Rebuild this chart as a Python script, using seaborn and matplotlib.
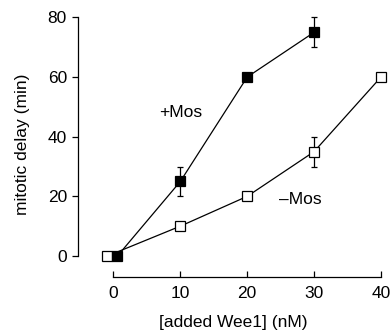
import numpy as np
import pandas as pd
import matplotlib
matplotlib.use("Agg")
import matplotlib.pyplot as plt
import seaborn as sns

# data
minus_x = [-0.9, 10, 20, 30, 40]
minus_y = [0, 10, 20, 35, 60]
minus_err = [1, 1, 0, 5, 0]
plus_x = [0.6, 10, 20, 30]
plus_y = [0, 25, 60, 75]
plus_err = [1, 5, 0, 5]

sns.set_style("ticks", {"axes.edgecolor": "black", "text.color": "black",
                        "xtick.color": "black", "ytick.color": "black",
                        "axes.labelcolor": "black"})
plt.rcParams["font.family"] = ["Liberation Sans", "DejaVu Sans"]
FS = 12.5

fig = plt.figure(figsize=(3.92, 3.36), dpi=100)
ax = fig.add_axes([0.199, 0.176, 0.79, 0.79])

df_minus = pd.DataFrame({"x": minus_x, "y": minus_y})
df_plus = pd.DataFrame({"x": plus_x, "y": plus_y})

ax.errorbar(minus_x, minus_y, yerr=minus_err, fmt="none", ecolor="black",
            elinewidth=0.9, capsize=2.5, capthick=0.9, zorder=2)
ax.errorbar(plus_x, plus_y, yerr=plus_err, fmt="none", ecolor="black",
            elinewidth=0.9, capsize=2.5, capthick=0.9, zorder=2)
sns.lineplot(data=df_minus, x="x", y="y", ax=ax, color="black", lw=0.9,
             marker="s", markersize=7, markerfacecolor="white",
             markeredgecolor="black", markeredgewidth=0.9, zorder=3)
sns.lineplot(data=df_plus, x="x", y="y", ax=ax, color="black", lw=0.9,
             marker="s", markersize=7, markerfacecolor="black",
             markeredgecolor="black", markeredgewidth=0.9, zorder=4)

ax.text(10, 48, "+Mos", fontsize=FS, ha="center", va="center")
ax.text(28, 19, "\u2013Mos", fontsize=FS, ha="center", va="center")

ax.set_xlim(-5.3, 41)
ax.set_ylim(-7, 82)
ax.set_xticks([0, 10, 20, 30, 40])
ax.set_yticks([0, 20, 40, 60, 80])
ax.spines["left"].set_bounds(0, 80)
ax.spines["bottom"].set_bounds(0, 40)
for s in ["top", "right"]:
    ax.spines[s].set_visible(False)
for s in ["left", "bottom"]:
    ax.spines[s].set_linewidth(0.9)
ax.tick_params(axis="y", direction="out", length=4, width=0.9, labelsize=FS, pad=4)
ax.tick_params(axis="x", direction="in", length=4, width=0.9, labelsize=FS, pad=6.5)
ax.set_xlabel("[added Wee1] (nM)", fontsize=FS, labelpad=10.5)
ax.set_ylabel("mitotic delay (min)", fontsize=FS, labelpad=13)

fig.savefig("out.png", dpi=100)
